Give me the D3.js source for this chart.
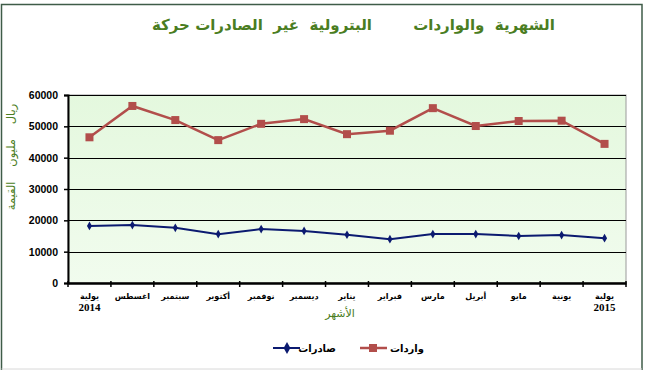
<!DOCTYPE html>
<html><head><meta charset="utf-8">
<script src="https://cdn.jsdelivr.net/npm/d3@7"></script>
<style>body{margin:0;background:#fff}svg{display:block}</style>
</head><body>
<svg id="c" width="652" height="374"></svg>
<script>
const months = ["يولية","اغسطس","سبتمبر","أكتوبر","نوفمبر","ديسمبر","يناير","فبراير","مارس","أبريل","مايو","يونية","يولية"];
const years = ["2014","","","","","","","","","","","","2015"];
const exportsVals = [18200,18500,17600,15600,17200,16600,15400,14000,15600,15600,15000,15300,14300];
const importsVals = [46500,56500,52000,45600,50800,52300,47500,48600,55800,50100,51700,51800,44400];
const yTicks = [0,10000,20000,30000,40000,50000,60000];
const titleRight = "الشهرية  والواردات";
const titleLeft = "البترولية  غير  الصادرات حركة";
const yTitle = "ريال    مليون    القيمة";
const xTitle = "الأشهر";
const legendNames = ["صادرات","واردات"];

const svg = d3.select("#c");
const L=68,R=626,T=95,B=283;
const x = d3.scaleBand().domain(d3.range(months.length)).range([L,R]);
const y = d3.scaleLinear().domain([0,60000]).range([B,T]);

// outer frame
svg.append("path").attr("d","M1.5,370 L1.5,4.5 L642,4.5 L642,370").attr("fill","none").attr("stroke","#3f5c48").attr("stroke-width",1.5);
svg.append("line").attr("x1",1.5).attr("x2",642).attr("y1",369).attr("y2",369).attr("stroke","#d8d8d8");

// plot bg
const defs=svg.append("defs");
const g=defs.append("linearGradient").attr("id","bg").attr("x1",0).attr("y1",0).attr("x2",0).attr("y2",1);
g.append("stop").attr("offset","0%").attr("stop-color","#e4f8de");
g.append("stop").attr("offset","100%").attr("stop-color","#f1fcee");
svg.append("rect").attr("x",L).attr("y",T).attr("width",R-L).attr("height",B-T).attr("fill","url(#bg)").attr("stroke","#9a9a9a").attr("stroke-width",1);

// gridlines
svg.append("g").selectAll("line").data(yTicks.filter(d=>d>0)).join("line")
  .attr("x1",L).attr("x2",R).attr("y1",d=>Math.round(y(d))+0.5).attr("y2",d=>Math.round(y(d))+0.5)
  .attr("stroke","#000").attr("stroke-width",1);

// y axis
const ya = svg.append("g").attr("transform",`translate(${L},0)`)
  .call(d3.axisLeft(y).tickValues(yTicks).tickFormat(d3.format("d")).tickSize(4).tickPadding(6));
ya.select(".domain").attr("stroke","#000").attr("stroke-width",2);
ya.selectAll(".tick line").attr("stroke","#000").attr("stroke-width",1.5);
ya.selectAll("text").attr("font-family","Liberation Sans, Arial, sans-serif").attr("font-weight","bold").attr("font-size",10.5).attr("fill","#000");

// x axis
const xa = svg.append("g").attr("transform",`translate(0,${B})`)
  .call(d3.axisBottom(x).tickValues([]).tickSizeOuter(0));
xa.select(".domain").attr("stroke","#000").attr("stroke-width",2.5);
const bounds = d3.range(months.length+1).map(i=> i<months.length ? x(i) : x(months.length-1)+x.bandwidth());
svg.append("g").selectAll("line").data(bounds).join("line")
  .attr("x1",d=>d).attr("x2",d=>d).attr("y1",B-2).attr("y2",B+4)
  .attr("stroke","#000").attr("stroke-width",1.5);

// x labels
svg.append("g").selectAll("text").data(months).join("text")
  .attr("x",(d,i)=>x(i)+x.bandwidth()/2).attr("y",299)
  .attr("text-anchor","middle").attr("font-family","DejaVu Sans, sans-serif").attr("font-weight","bold")
  .attr("font-size",8).attr("fill","#000").text(d=>d);
svg.append("g").selectAll("text").data(years).join("text")
  .attr("x",(d,i)=>x(i)+x.bandwidth()/2).attr("y",311)
  .attr("text-anchor","middle").attr("font-family","Liberation Serif, serif").attr("font-weight","bold")
  .attr("font-size",11).attr("fill","#000").text(d=>d);

// titles
const tf = {"font-family":"DejaVu Sans, sans-serif","font-weight":"bold","font-size":15,"fill":"#4a7d22"};
const t1 = svg.append("text").attr("x",484).attr("y",30).attr("text-anchor","middle").style("white-space","pre").text(titleRight);
const t2 = svg.append("text").attr("x",262).attr("y",30).attr("text-anchor","middle").style("white-space","pre").text(titleLeft);
[t1,t2].forEach(t=>Object.entries(tf).forEach(([k,v])=>t.attr(k,v)));
svg.append("text").attr("transform","translate(15,157) rotate(-90)").attr("text-anchor","middle")
  .style("white-space","pre").attr("font-family","DejaVu Sans, sans-serif")
  .attr("font-size",11.5).attr("fill","#4a7d22").text(yTitle);
svg.append("text").attr("x",340).attr("y",317).attr("text-anchor","middle")
  .attr("font-family","DejaVu Sans, sans-serif").attr("font-size",11).attr("fill","#4a7d22").text(xTitle);

// lines
const line = d3.line().x((d,i)=>x(i)+x.bandwidth()/2).y(d=>y(d));
const impColor="#b24e4b", expColor="#0b1a70";
svg.append("path").datum(importsVals).attr("d",line).attr("fill","none").attr("stroke",impColor).attr("stroke-width",2.5);
svg.append("g").selectAll("rect").data(importsVals).join("rect")
  .attr("x",(d,i)=>x(i)+x.bandwidth()/2-4).attr("y",d=>y(d)-4).attr("width",8).attr("height",8).attr("fill",impColor);
svg.append("path").datum(exportsVals).attr("d",line).attr("fill","none").attr("stroke",expColor).attr("stroke-width",2);
svg.append("g").selectAll("path.m").data(exportsVals).join("path")
  .attr("d",d3.symbol(d3.symbolDiamond,22)())
  .attr("transform",(d,i)=>`translate(${x(i)+x.bandwidth()/2},${y(d)})`).attr("fill",expColor);

// legend
const lg = svg.append("g");
lg.append("line").attr("x1",273).attr("x2",300).attr("y1",348).attr("y2",348).attr("stroke",expColor).attr("stroke-width",2);
lg.append("path").attr("d",d3.symbol(d3.symbolDiamond,40)()).attr("transform","translate(287,348)").attr("fill",expColor);
lg.append("text").attr("x",336).attr("y",352).attr("text-anchor","end").attr("font-family","DejaVu Sans, sans-serif")
  .attr("font-weight","bold").attr("font-size",10).attr("fill","#000").text(legendNames[0]);
lg.append("line").attr("x1",360).attr("x2",387).attr("y1",348).attr("y2",348).attr("stroke",impColor).attr("stroke-width",2.5);
lg.append("rect").attr("x",369).attr("y",344).attr("width",8).attr("height",8).attr("fill",impColor);
lg.append("text").attr("x",424).attr("y",352).attr("text-anchor","end").attr("font-family","DejaVu Sans, sans-serif")
  .attr("font-weight","bold").attr("font-size",10).attr("fill","#000").text(legendNames[1]);
</script>
</body></html>
